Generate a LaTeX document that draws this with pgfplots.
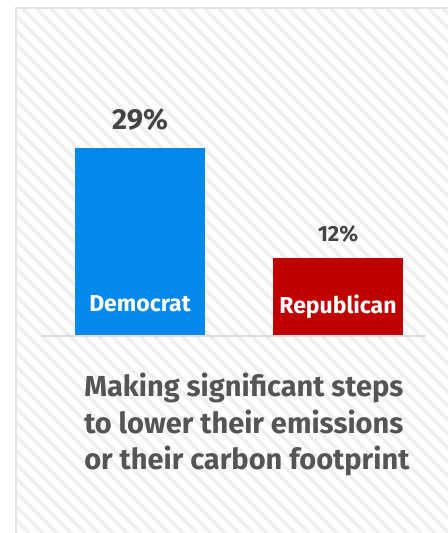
\documentclass[border=0pt]{standalone}
\usepackage{fontspec}
\setmainfont{Fira Sans}
\usepackage{pgfplots}
\pgfplotsset{compat=1.18}
\definecolor{demblue}{HTML}{0588EB}
\definecolor{repred}{HTML}{C00000}
\definecolor{stripecol}{HTML}{EFEFEF}
\definecolor{panelborder}{HTML}{E4E4E4}
\definecolor{basecol}{HTML}{DDDDDD}
\definecolor{valtext}{HTML}{444444}
\definecolor{titletext}{HTML}{555555}
\newcommand{\pxfont}[1]{\fontsize{\dimexpr #1\dimexpr 0.75pt\relax\relax}{\dimexpr #1\dimexpr 0.9pt\relax\relax}\selectfont}
\begin{document}
\begin{tikzpicture}[x=0.75pt, y=-0.75pt]
\useasboundingbox (0,0) rectangle (448,533);
% panel with stripes
\fill[white] (0,0) rectangle (448,533);
\begin{scope}
\clip (16,8) rectangle (448,533);
\foreach \i in {-630,-616,...,460} {
  \draw[stripecol, line width=2.6pt] (\i,0) -- ++(600,600);
}
\end{scope}
\draw[panelborder, line width=1.5pt] (16,533) -- (16,8) -- (448,8);
% chart
\begin{axis}[
  at={(31.5pt,-251.25pt)}, anchor=south west,
  scale only axis,
  width=288pt, height=169.27pt,
  xmin=-0.4949, xmax=1.4444,
  ymin=0, ymax=35,
  axis lines=none,
  ybar, bar width=97.5pt,
  clip=false,
  /pgf/number format/assume math mode=true,
  nodes near coords,
  point meta=y,
  nodes near coords={\pgfmathprintnumber{\pgfplotspointmeta}\%},
]
\draw[basecol, line width=1.2pt] (axis cs:-0.4949,-0.12) -- (axis cs:1.4444,-0.12);
\addplot[fill=demblue, draw=none, bar shift=0pt,
  every node near coord/.append style={anchor=base, yshift=14.25pt, font=\pxfont{29}\bfseries, text=valtext}]
  coordinates {(0,29)};
\addplot[fill=repred, draw=none, bar shift=0pt,
  every node near coord/.append style={anchor=base, yshift=12pt, font=\pxfont{22}\bfseries, text=valtext}]
  coordinates {(1,12)};
\node[anchor=base, text=white, font=\pxfont{23}\bfseries] at (axis cs:0,0) [yshift=18pt] {Democrat};
\node[anchor=base, text=white, font=\pxfont{23}\bfseries] at (axis cs:1,0) [yshift=16.5pt] {Republican};
\end{axis}
% title
\node[anchor=base west, text=titletext, font=\pxfont{29}\bfseries, inner sep=0pt] at (84,396) {Making significant steps};
\node[anchor=base west, text=titletext, font=\pxfont{29}\bfseries, inner sep=0pt] at (84,433) {to lower their emissions};
\node[anchor=base west, text=titletext, font=\pxfont{29}\bfseries, inner sep=0pt] at (84,469) {or their carbon footprint};
\end{tikzpicture}
\end{document}
